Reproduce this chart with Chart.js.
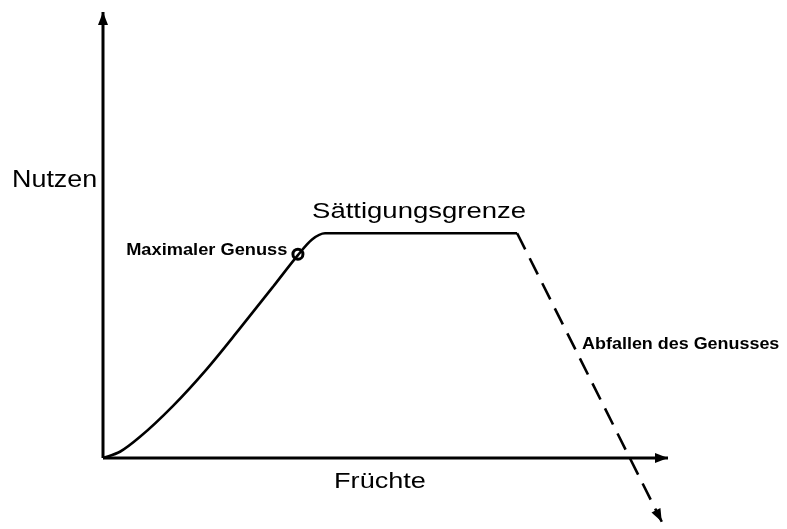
<!DOCTYPE html>
<html>
<head>
<meta charset="utf-8">
<script src="https://cdn.jsdelivr.net/npm/chart.js@4/dist/chart.umd.min.js"></script>
<style>
  html,body{margin:0;padding:0;background:#fff;}
  #wrap{width:787px;height:529px;}
</style>
</head>
<body>
<div id="wrap"><canvas id="c" width="787" height="529"></canvas></div>
<script>
// ---- data (Früchte = x units, Nutzen = y units) ----
const fruits   = [0, 0.30, 0.65, 1.24, 1.84, 2.42, 3.01, 3.45, 3.70, 3.93, 7.33];
const utility  = [0, 0.14, 0.47, 1.17, 2.00, 2.90, 3.84, 4.55, 4.90, 5.04, 5.04];
const declineFruits  = [7.33, 9.89];
const declineUtility = [5.04, -1.43];
const maxEnjoyFruits  = [3.45];
const maxEnjoyUtility = [4.57];
const xAxisEnd = 10;
const yAxisEnd = 10;
const labels = ["Nutzen", "Früchte", "Sättigungsgrenze", "Maximaler Genuss", "Abfallen des Genusses"];
const labelX = [-1.61, 4.09, 3.70, 0.41, 8.48];
const labelY = [6.08, -0.67, 5.38, 4.55, 2.44];

const toPts = (xs, ys) => xs.map((x, i) => ({x, y: ys[i]}));
const ink = '#000';

const textStyles = [
  {size: 24, weight: 'normal', sx: 1.12},
  {size: 22, weight: 'normal', sx: 1.23},
  {size: 22, weight: 'normal', sx: 1.25},
  {size: 16, weight: 'bold', sx: 1.14},
  {size: 16, weight: 'bold', sx: 1.12}
];

const arrowPlugin = {
  id: 'arrows',
  afterDatasetsDraw(chart) {
    const ctx = chart.ctx;
    const xs = chart.scales.x, ys = chart.scales.y;
    chart.data.datasets.forEach((ds) => {
      if (!ds.arrow) return;
      const n = ds.data.length;
      const a = ds.data[n - 2], b = ds.data[n - 1];
      const x1 = xs.getPixelForValue(a.x), y1 = ys.getPixelForValue(a.y);
      const x2 = xs.getPixelForValue(b.x), y2 = ys.getPixelForValue(b.y);
      const ang = Math.atan2(y2 - y1, x2 - x1);
      const len = 13, half = 5;
      ctx.save();
      ctx.translate(x2, y2);
      ctx.rotate(ang);
      ctx.fillStyle = ink;
      ctx.beginPath();
      ctx.moveTo(0, 0);
      ctx.lineTo(-len, -half);
      ctx.lineTo(-len, half);
      ctx.closePath();
      ctx.fill();
      ctx.restore();
    });
    labels.forEach((t, i) => {
      const st = textStyles[i];
      const px = xs.getPixelForValue(labelX[i]);
      const py = ys.getPixelForValue(labelY[i]);
      ctx.save();
      ctx.font = `${st.weight} ${st.size}px "Liberation Sans", Arial, sans-serif`;
      ctx.fillStyle = ink;
      ctx.textAlign = 'left';
      ctx.textBaseline = 'alphabetic';
      ctx.translate(px, py);
      ctx.scale(st.sx, 1);
      ctx.fillText(t, 0, 0);
      ctx.restore();
    });
  }
};

new Chart(document.getElementById('c'), {
  type: 'scatter',
  data: {
    datasets: [
      {data: toPts([0, 0], [0, yAxisEnd]), showLine: true, borderColor: ink, borderWidth: 3, pointRadius: 0, arrow: true},
      {data: toPts([0, xAxisEnd], [0, 0]), showLine: true, borderColor: ink, borderWidth: 3, pointRadius: 0, arrow: true},
      {data: toPts(fruits, utility), showLine: true, borderColor: ink, borderWidth: 2.6, pointRadius: 0, cubicInterpolationMode: 'monotone'},
      {data: toPts(declineFruits, declineUtility), showLine: true, borderColor: ink, borderWidth: 2.6, borderDash: [18, 10], pointRadius: 0, arrow: true},
      {data: toPts(maxEnjoyFruits, maxEnjoyUtility), showLine: false, pointRadius: 5, pointBorderWidth: 3, pointBackgroundColor: '#fff', pointBorderColor: ink}
    ]
  },
  options: {
    responsive: false,
    devicePixelRatio: 1,
    animation: false,
    layout: {padding: 0, autoPadding: false},
    plugins: {legend: {display: false}, tooltip: {enabled: false}},
    scales: {
      x: {type: 'linear', display: false, min: -103 / 56.5, max: 684 / 56.5},
      y: {type: 'linear', display: false, min: -71 / 44.6, max: 458 / 44.6}
    }
  },
  plugins: [arrowPlugin]
});
</script>
</body>
</html>
